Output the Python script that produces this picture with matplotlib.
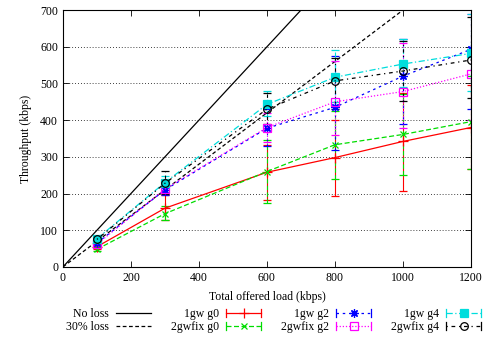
import matplotlib
matplotlib.use("Agg")
import matplotlib.pyplot as plt
from matplotlib.legend_handler import HandlerBase
from matplotlib.lines import Line2D
import numpy as np

plt.rcParams['font.family'] = ['Liberation Serif', 'DejaVu Serif']
FS = 8.5
plt.rcParams['font.size'] = FS

loads = [100, 300, 600, 800, 1000, 1200]
ideal_x = [0, 1200]
noloss_y = [0, 1200]
loss30_y = [0, 840]

series = {
    "1gw g0":     ([55, 160, 258, 298, 342, 380], [48, 128, 182, 193, 207, 267], [62, 195, 332, 400, 475, 495]),
    "2gwfix g0":  ([48, 145, 260, 333, 361, 396], [42, 128, 174, 240, 250, 267], [55, 165, 346, 425, 470, 520]),
    "1gw g2":     ([65, 210, 378, 435, 520, 593], [58, 195, 330, 320, 390, 430], [72, 228, 430, 575, 620, 760]),
    "2gwfix g2":  ([62, 212, 380, 450, 478, 526], [56, 198, 340, 360, 380, 400], [70, 228, 420, 560, 610, 690]),
    "1gw g4":     ([77, 230, 443, 517, 553, 582], [70, 215, 410, 450, 490, 480], [85, 248, 480, 590, 620, 690]),
    "2gwfix g4":  ([75, 228, 430, 507, 534, 564], [68, 200, 390, 430, 453, 460], [82, 262, 475, 570, 615, 680]),
}

styles = {
    "1gw g0":    dict(color='#ff0000', ls='-', marker='+', ms=7, mfc='none'),
    "2gwfix g0": dict(color='#00dd00', ls=(0, (4, 2)), marker='x', ms=5, mfc='none'),
    "1gw g2":    dict(color='#0000ff', ls=(0, (2, 3)), marker=(8, 2, 0), ms=6, mfc='none'),
    "2gwfix g2": dict(color='#ff00ff', ls=(0, (1, 1.5)), marker='s', ms=5.5, mfc='none'),
    "1gw g4":    dict(color='#00dddd', ls=(0, (5, 2, 1, 2)), marker='s', ms=5.5, mfc='#00dddd'),
    "2gwfix g4": dict(color='#000000', ls=(0, (1, 3, 3, 3)), marker='o', ms=5.5, mfc='none'),
}


class ErrHandler(HandlerBase):
    def __init__(self, st):
        super().__init__()
        self.st = st

    def create_artists(self, legend, orig_handle, xdescent, ydescent, width, height, fontsize, trans):
        st = self.st
        yc = height / 2 - ydescent
        x0, x1 = -xdescent, -xdescent + width
        line = Line2D([x0, x1], [yc, yc], color=st['color'], ls=st['ls'], lw=0.9, transform=trans)
        c1 = Line2D([x0, x0], [yc - 3, yc + 3], color=st['color'], lw=0.9, transform=trans)
        c2 = Line2D([x1, x1], [yc - 3, yc + 3], color=st['color'], lw=0.9, transform=trans)
        mk = Line2D([(x0 + x1) / 2], [yc], color=st['color'], ls='none', marker=st['marker'],
                    ms=st['ms'], mfc=st['mfc'], mec=st['color'], mew=0.9, transform=trans)
        return [line, c1, c2, mk]


fig = plt.figure(figsize=(4.88, 3.37), dpi=100)
ax = fig.add_axes([0.129, 0.208, 0.836, 0.762])

h1, = ax.plot(ideal_x, noloss_y, color='black', lw=0.9, label='No loss')
h2, = ax.plot(ideal_x, loss30_y, color='black', lw=0.9, ls=(0, (3, 2)), label='30% loss')

order = ["1gw g0", "2gwfix g0", "1gw g2", "2gwfix g2", "1gw g4", "2gwfix g4"]
handles = {}
hmap = {}
for name in order:
    y, lo, hi = series[name]
    y = np.array(y); lo = np.array(lo); hi = np.array(hi)
    st = styles[name]
    eb = ax.errorbar(loads, y, yerr=[y - lo, hi - y], color=st['color'], ls=st['ls'], lw=0.9,
                     marker=st['marker'], ms=st['ms'], mfc=st['mfc'], mec=st['color'], mew=0.9,
                     capsize=3, elinewidth=0.8, capthick=0.8, label=name)
    eb[2][0].set_linestyle(st['ls'])
    handles[name] = eb
    hmap[eb] = ErrHandler(st)

ax.set_xlim(0, 1200)
ax.set_ylim(0, 700)
ax.set_xticks([0, 200, 400, 600, 800, 1000, 1200])
ax.set_yticks(range(0, 701, 100))
ax.yaxis.grid(True, color='black', ls=(0, (1, 2.5)), lw=0.6)
ax.tick_params(direction='in', top=True, right=True, length=4, width=0.6, labelsize=FS)
for sp in ax.spines.values():
    sp.set_linewidth(0.8)
ax.set_xlabel('Total offered load (kbps)', fontsize=FS, labelpad=5)
ax.set_ylabel('Throughput (kbps)', fontsize=FS, labelpad=6)

leg_h = [h1, h2, handles["1gw g0"], handles["2gwfix g0"], handles["1gw g2"], handles["2gwfix g2"],
         handles["1gw g4"], handles["2gwfix g4"]]
leg_l = ['No loss', '30% loss', '1gw g0', '2gwfix g0', '1gw g2', '2gwfix g2', '1gw g4', '2gwfix g4']
ax.legend(leg_h, leg_l, ncol=4, markerfirst=False, frameon=False, loc='upper right',
          bbox_to_anchor=(1.04, -0.137), handlelength=3.0, columnspacing=1.65,
          handletextpad=0.6, labelspacing=0.1, borderpad=0, fontsize=FS, handler_map=hmap)

fig.savefig('out.png', dpi=100)
